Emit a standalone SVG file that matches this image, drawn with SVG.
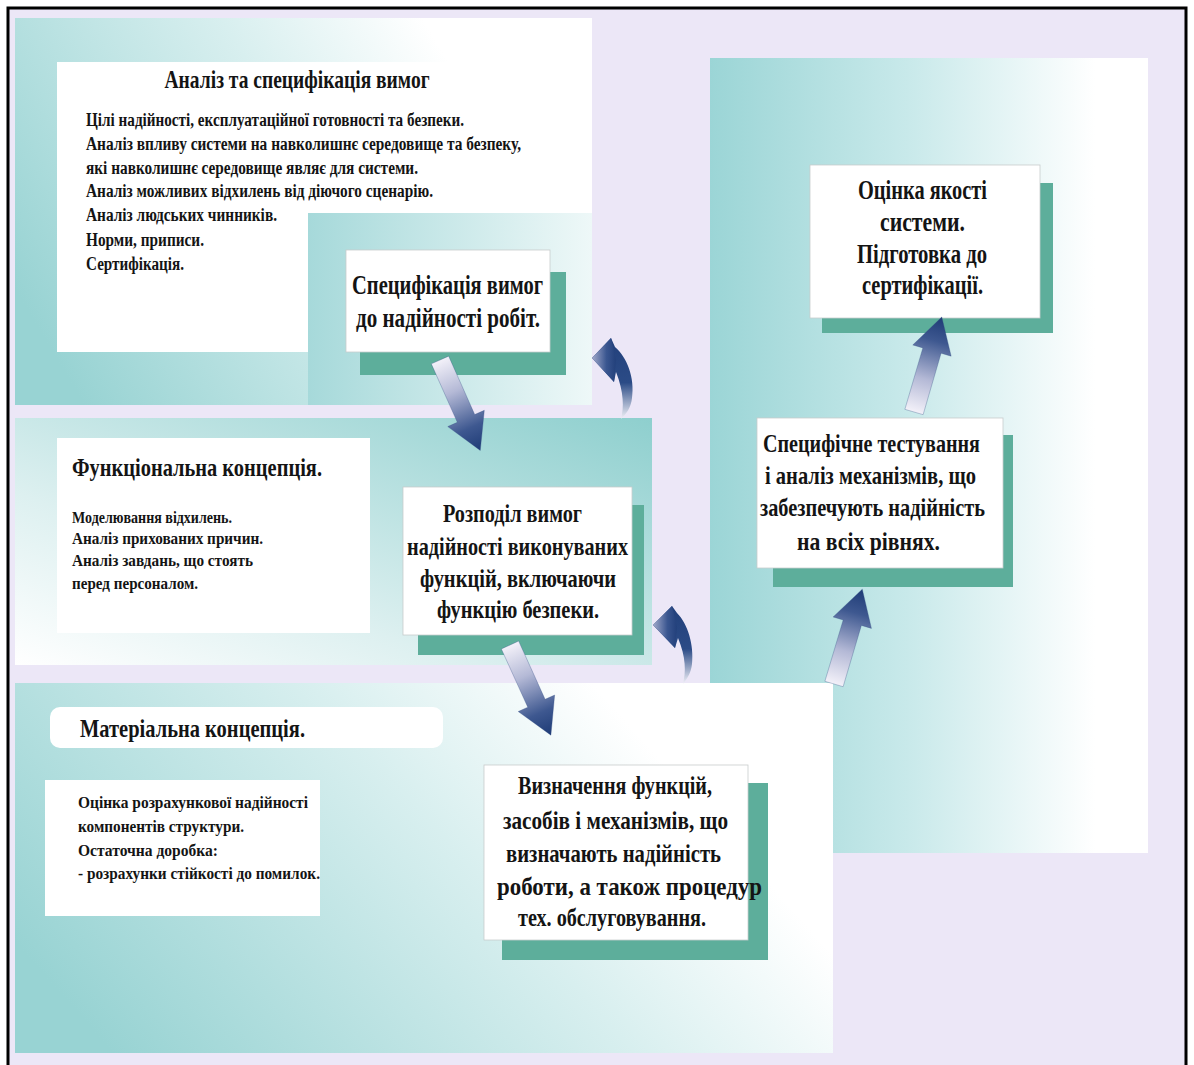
<svg xmlns="http://www.w3.org/2000/svg" width="1194" height="1065" viewBox="0 0 1194 1065">
<defs>
<style>
.t{font-family:"Liberation Serif","Times New Roman",serif;font-weight:bold;fill:#141414;}
.shadow{fill:#5DAE9B;}
.box{fill:#ffffff;stroke:#c9cccc;stroke-width:0.8;}
.plain{fill:#ffffff;}
</style>
<linearGradient id="gPanelA" x1="0" y1="0.7" x2="1" y2="0.3">
<stop offset="0" stop-color="#98D3D3"/>
<stop offset="0.55" stop-color="#D8EFEF"/>
<stop offset="0.85" stop-color="#FFFFFF"/>
<stop offset="1" stop-color="#FFFFFF"/>
</linearGradient>
<linearGradient id="gPanel2" x1="0" y1="1" x2="1" y2="0">
<stop offset="0" stop-color="#FFFFFF"/>
<stop offset="0.35" stop-color="#DDF0F0"/>
<stop offset="1" stop-color="#8ECFCE"/>
</linearGradient>
<linearGradient id="gPanel3" x1="0" y1="0" x2="1" y2="0">
<stop offset="0" stop-color="#9BD5D6"/>
<stop offset="0.45" stop-color="#C8E9EA"/>
<stop offset="0.88" stop-color="#FFFFFF"/>
<stop offset="1" stop-color="#FFFFFF"/>
</linearGradient>
<linearGradient id="gInner" x1="0" y1="0" x2="1" y2="0">
<stop offset="0" stop-color="#A6D9DA"/>
<stop offset="1" stop-color="#EEF8F8"/>
</linearGradient>
<linearGradient id="gArrow" x1="0" y1="0" x2="1" y2="0">
<stop offset="0" stop-color="#F3F1F9"/>
<stop offset="0.35" stop-color="#B4B9D6"/>
<stop offset="0.75" stop-color="#3E5890"/>
<stop offset="1" stop-color="#1E3B76"/>
</linearGradient>
<linearGradient id="gCurve" x1="0" y1="0" x2="0" y2="1">
<stop offset="0" stop-color="#22407B"/>
<stop offset="0.55" stop-color="#2B4B86"/>
<stop offset="1" stop-color="#F2F2F8"/>
</linearGradient>
<linearGradient id="gHead" x1="0" y1="0" x2="1" y2="0">
<stop offset="0" stop-color="#A3AACB"/>
<stop offset="0.6" stop-color="#3A5690"/>
<stop offset="1" stop-color="#22407B"/>
</linearGradient>
<path id="sArrow" d="M0,-9.5 L64,-9.5 L64,-20 L99,0 L64,20 L64,9.5 L0,9.5 Z" fill="url(#gArrow)" stroke="#2F4A80" stroke-opacity="0.35" stroke-width="0.8"/>
</defs>

<rect x="0" y="0" width="1194" height="1065" fill="#FFFFFF"/>
<rect x="8" y="8" width="1178" height="1057" fill="#ECE7F7"/>
<path d="M8,1065 V8 H1186 V1065" fill="none" stroke="#000000" stroke-width="3"/>

<g id="panel-requirements">
<rect x="15" y="18" width="577" height="387" fill="url(#gPanelA)"/>
<path class="plain" d="M57,62 H548 V213 H308 V352 H57 Z"/>
<rect x="308" y="213" width="284" height="192" fill="url(#gInner)"/>
<text class="t" x="297" y="88" font-size="25" text-anchor="middle" textLength="265" lengthAdjust="spacingAndGlyphs">Аналіз та специфікація вимог</text>
<text class="t" x="86" y="126" font-size="18" textLength="378" lengthAdjust="spacingAndGlyphs">Цілі надійності, експлуатаційної готовності та безпеки.</text>
<text class="t" x="86" y="150" font-size="18" textLength="435" lengthAdjust="spacingAndGlyphs">Аналіз впливу системи на навколишнє середовище та безпеку,</text>
<text class="t" x="86" y="174" font-size="18" textLength="332" lengthAdjust="spacingAndGlyphs">які навколишнє середовище являє для системи.</text>
<text class="t" x="86" y="197" font-size="18" textLength="347" lengthAdjust="spacingAndGlyphs">Аналіз можливих відхилень від діючого сценарію.</text>
<text class="t" x="86" y="221" font-size="18" textLength="191" lengthAdjust="spacingAndGlyphs">Аналіз людських чинників.</text>
<text class="t" x="86" y="246" font-size="18" textLength="118" lengthAdjust="spacingAndGlyphs">Норми, приписи.</text>
<text class="t" x="86" y="270" font-size="18" textLength="98" lengthAdjust="spacingAndGlyphs">Сертифікація.</text>
</g>

<g id="node-spec">
<rect class="shadow" x="360" y="272" width="206" height="103"/>
<rect class="box" x="346" y="250" width="204" height="102"/>
<text class="t" x="352" y="294" font-size="27" textLength="191" lengthAdjust="spacingAndGlyphs">Специфікація вимог</text>
<text class="t" x="356" y="327" font-size="27" textLength="184" lengthAdjust="spacingAndGlyphs">до надійності робіт.</text>
</g>

<g id="panel-functional">
<rect x="15" y="418" width="637" height="247" fill="url(#gPanel2)"/>
<rect class="plain" x="57" y="438" width="313" height="195"/>
<text class="t" x="72" y="476" font-size="25" textLength="250" lengthAdjust="spacingAndGlyphs">Функціональна концепція.</text>
<text class="t" x="72" y="523" font-size="17" textLength="160" lengthAdjust="spacingAndGlyphs">Моделювання відхилень.</text>
<text class="t" x="72" y="544" font-size="17" textLength="191" lengthAdjust="spacingAndGlyphs">Аналіз прихованих причин.</text>
<text class="t" x="72" y="566" font-size="17" textLength="181" lengthAdjust="spacingAndGlyphs">Аналіз завдань, що стоять</text>
<text class="t" x="72" y="589" font-size="17" textLength="126" lengthAdjust="spacingAndGlyphs">перед персоналом.</text>
</g>

<g id="node-distribution">
<rect class="shadow" x="418" y="505" width="226" height="150"/>
<rect class="box" x="403" y="487" width="229" height="148"/>
<text class="t" x="443" y="522" font-size="26" textLength="139" lengthAdjust="spacingAndGlyphs">Розподіл вимог</text>
<text class="t" x="407" y="555" font-size="26" textLength="221" lengthAdjust="spacingAndGlyphs">надійності виконуваних</text>
<text class="t" x="420" y="587" font-size="26" textLength="196" lengthAdjust="spacingAndGlyphs">функцій, включаючи</text>
<text class="t" x="437" y="618" font-size="26" textLength="162" lengthAdjust="spacingAndGlyphs">функцію безпеки.</text>
</g>

<g id="panel-validation">
<rect x="710" y="58" width="438" height="795" fill="url(#gPanel3)"/>
</g>

<g id="node-quality">
<rect class="shadow" x="822" y="183" width="231" height="150"/>
<rect class="box" x="810" y="165" width="230" height="153"/>
<text class="t" x="858" y="199" font-size="27" textLength="129" lengthAdjust="spacingAndGlyphs">Оцінка якості</text>
<text class="t" x="880" y="231" font-size="27" textLength="85" lengthAdjust="spacingAndGlyphs">системи.</text>
<text class="t" x="857" y="263" font-size="27" textLength="130" lengthAdjust="spacingAndGlyphs">Підготовка до</text>
<text class="t" x="862" y="294" font-size="27" textLength="121" lengthAdjust="spacingAndGlyphs">сертифікації.</text>
</g>

<g id="node-testing">
<rect class="shadow" x="773" y="435" width="240" height="152"/>
<rect class="box" x="757" y="418" width="246" height="150"/>
<text class="t" x="763" y="452" font-size="26" textLength="217" lengthAdjust="spacingAndGlyphs">Специфічне тестування</text>
<text class="t" x="765" y="484" font-size="26" textLength="211" lengthAdjust="spacingAndGlyphs">і аналіз механізмів, що</text>
<text class="t" x="760" y="516" font-size="26" textLength="225" lengthAdjust="spacingAndGlyphs">забезпечують надійність</text>
<text class="t" x="797" y="550" font-size="26" textLength="143" lengthAdjust="spacingAndGlyphs">на всіх рівнях.</text>
</g>

<g id="panel-material">
<rect x="15" y="683" width="818" height="370" fill="url(#gPanelA)"/>
<rect class="plain" x="50" y="707" width="393" height="41" rx="10" ry="10"/>
<text class="t" x="80" y="737" font-size="25" textLength="225" lengthAdjust="spacingAndGlyphs">Матеріальна концепція.</text>
<rect class="plain" x="45" y="780" width="275" height="136"/>
<text class="t" x="78" y="808" font-size="17" textLength="230" lengthAdjust="spacingAndGlyphs">Оцінка розрахункової надійності</text>
<text class="t" x="78" y="832" font-size="17" textLength="166" lengthAdjust="spacingAndGlyphs">компонентів структури.</text>
<text class="t" x="78" y="856" font-size="17" textLength="140" lengthAdjust="spacingAndGlyphs">Остаточна доробка:</text>
<text class="t" x="78" y="879" font-size="17" textLength="242" lengthAdjust="spacingAndGlyphs">- розрахунки стійкості до помилок.</text>
</g>

<g id="node-definition">
<rect class="shadow" x="502" y="783" width="266" height="177"/>
<rect class="box" x="484" y="765" width="264" height="175"/>
<text class="t" x="518" y="794" font-size="26" textLength="194" lengthAdjust="spacingAndGlyphs">Визначення функцій,</text>
<text class="t" x="503" y="829" font-size="26" textLength="225" lengthAdjust="spacingAndGlyphs">засобів і механізмів, що</text>
<text class="t" x="506" y="862" font-size="26" textLength="215" lengthAdjust="spacingAndGlyphs">визначають надійність</text>
<text class="t" x="497" y="895" font-size="26" textLength="265" lengthAdjust="spacingAndGlyphs">роботи, а також процедур</text>
<text class="t" x="518" y="926" font-size="26" textLength="188" lengthAdjust="spacingAndGlyphs">тех. обслуговування.</text>
</g>

<g id="connectors">
<use href="#sArrow" transform="translate(440,360) rotate(66)"/>
<use href="#sArrow" transform="translate(510,645) rotate(65.6)"/>
<use href="#sArrow" transform="translate(834,684) rotate(-73.4)"/>
<use href="#sArrow" transform="translate(914,412) rotate(-73.7)"/>
<path d="M592,358 L611,338 L615,347 C627,357 635,378 632,398 C631,408 626,414 621,419 C624,408 624,392 616,372 L614,382 Z" fill="url(#gCurve)"/>
<path d="M592,358 L611,338 L616,360 L614,382 Z" fill="url(#gHead)"/>
<path d="M653,625 L672,606 L677,613 C688,624 694,645 692,664 C691,673 687,679 683,684 C686,672 686,657 678,638 L675,648 Z" fill="url(#gCurve)"/>
<path d="M653,625 L672,606 L677,627 L675,648 Z" fill="url(#gHead)"/>
</g>
</svg>
